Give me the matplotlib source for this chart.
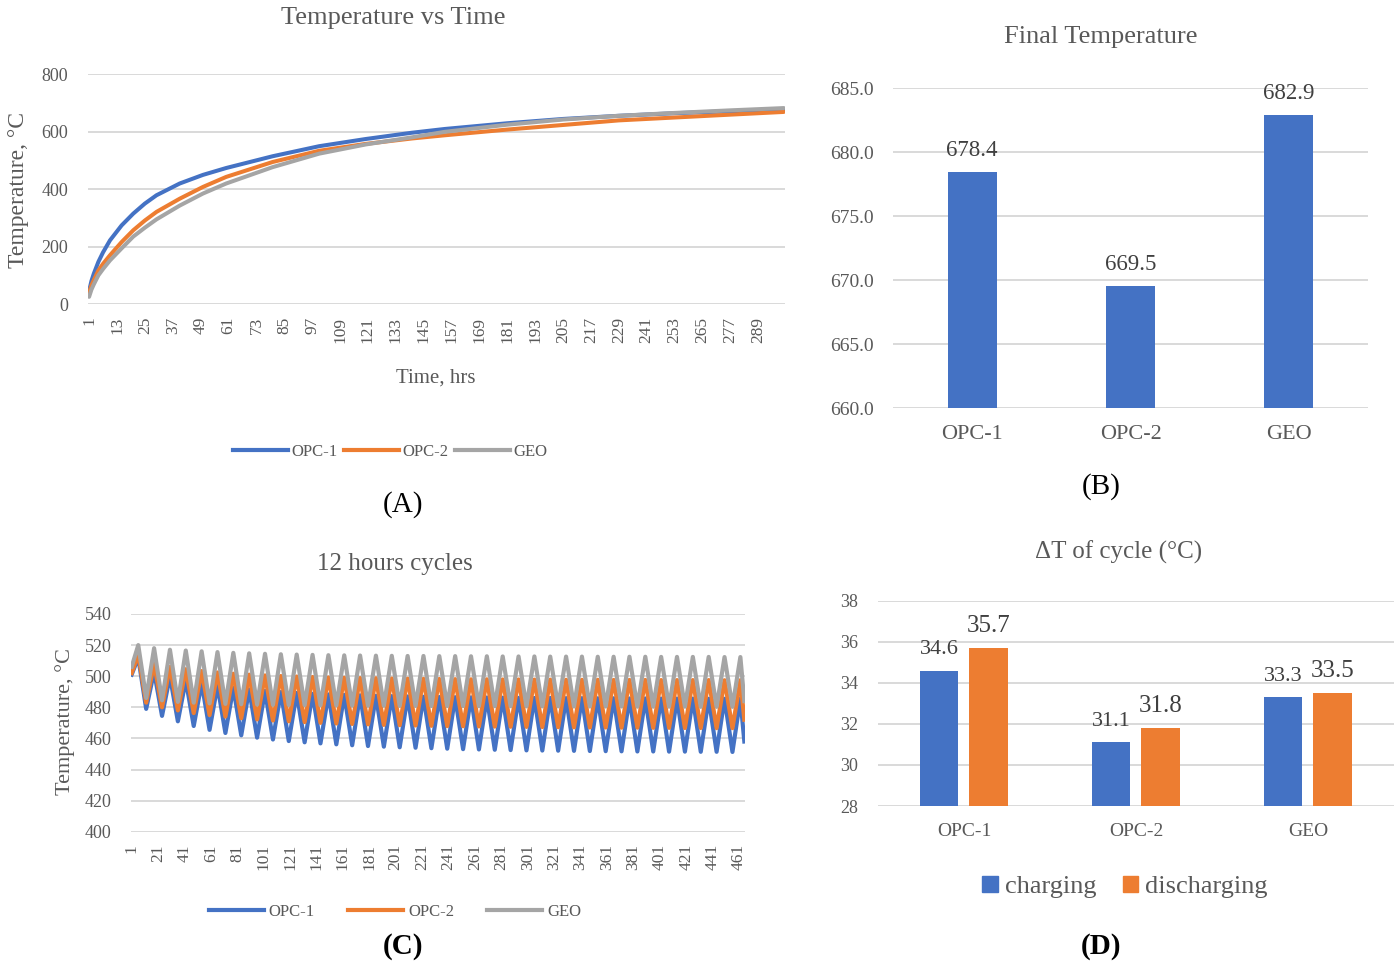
import numpy as np
import matplotlib
matplotlib.use('Agg')
import matplotlib.pyplot as plt
from matplotlib.patches import Patch
from matplotlib.lines import Line2D

plt.rcParams['font.family'] = ['Liberation Serif', 'DejaVu Serif']

BLUE = '#4472C4'
ORANGE = '#ED7D31'
GRAY = '#A5A5A5'
GRID = '#D9D9D9'
TEXT = '#595959'

series_names = ['OPC-1', 'OPC-2', 'GEO']

# (A) temperature vs time, values read at selected hours
a_hours = [1, 2, 3, 5, 7, 10, 15, 20, 25, 30, 40, 50, 60, 80, 100, 120,
           140, 154, 181, 205, 229, 253, 277, 300]
a_opc1 = [45, 80, 105, 147, 180, 222, 274, 315, 350, 379, 420, 450, 474, 515,
          550, 575, 597, 610, 630, 645, 656, 665, 672, 678.4]
a_opc2 = [40, 65, 83, 117, 140, 170, 216, 257, 291, 321, 367, 408, 443, 495,
          534, 558, 577, 588, 608, 624, 640, 650, 660, 669.5]
a_geo = [25, 50, 68, 100, 122, 152, 194, 235, 266, 295, 343, 385, 420, 477,
         524, 556, 581, 600, 625, 643, 656, 666, 675, 682.9]
a_n_hours = 300
a_tick_labels = list(range(1, 290, 12))

# (B) final temperature
b_values = [678.4, 669.5, 682.9]

# (C) 12 hours cycles: value at start, at each peak, each trough and at the end
c_peak_hours = np.arange(6, 463, 12)
c_trough_hours = np.arange(12, 457, 12)
c_end_hour = 465
c_start = [501, 502, 506]
c_end = [458, 472, 484]
c_opc1_peaks = [512, 503, 500, 497.5, 495.5, 494, 492.5, 491.5, 490.5, 489.8,
                489.2, 488.7, 488.3, 488, 487.7, 487.4, 487.2, 487, 486.8, 486.6,
                486.5, 486.4, 486.3, 486.2, 486.1, 486, 486, 485.9, 485.9, 485.8,
                485.8, 485.7, 485.7, 485.6, 485.6, 485.6, 485.5, 485.5, 485.5]
c_opc1_troughs = [479, 474.5, 471, 468, 465.5, 463.5, 462, 460.5, 459.3, 458.3,
                  457.5, 456.8, 456.2, 455.6, 455.1, 454.7, 454.3, 454, 453.7, 453.4,
                  453.1, 452.9, 452.7, 452.5, 452.3, 452.2, 452.1, 452, 451.9, 451.8,
                  451.7, 451.6, 451.6, 451.5, 451.5, 451.4, 451.4, 451.3]
c_opc2_peaks = [514, 508, 506, 504.5, 503.3, 502.4, 501.6, 501, 500.5, 500.1,
                499.8, 499.5, 499.2, 499, 498.8, 498.7, 498.5, 498.4, 498.3, 498.2,
                498.1, 498, 498, 497.9, 497.9, 497.8, 497.8, 497.7, 497.7, 497.7,
                497.6, 497.6, 497.6, 497.5, 497.5, 497.5, 497.5, 497.4, 497.4]
c_opc2_troughs = [483, 480, 478, 476.3, 475, 474, 473, 472.2, 471.5, 471,
                  470.5, 470, 469.6, 469.3, 469, 468.7, 468.5, 468.3, 468.1, 467.9,
                  467.8, 467.7, 467.6, 467.5, 467.4, 467.3, 467.2, 467.1, 467, 467,
                  466.9, 466.9, 466.8, 466.8, 466.7, 466.7, 466.6, 466.6]
c_geo_peaks = [520, 518, 517, 516.5, 516, 515.5, 515, 514.7, 514.4, 514.1,
               513.9, 513.7, 513.5, 513.4, 513.3, 513.2, 513.1, 513, 513, 512.9,
               512.9, 512.8, 512.8, 512.7, 512.7, 512.7, 512.6, 512.6, 512.6, 512.5,
               512.5, 512.5, 512.5, 512.4, 512.4, 512.4, 512.4, 512.3, 512.3]
c_geo_troughs = [486, 484.5, 483.5, 483, 482.5, 482.2, 482, 481.8, 481.6, 481.5,
                 481.4, 481.3, 481.2, 481.1, 481, 481, 480.9, 480.9, 480.8, 480.8,
                 480.8, 480.7, 480.7, 480.7, 480.6, 480.6, 480.6, 480.5, 480.5, 480.5,
                 480.5, 480.4, 480.4, 480.4, 480.4, 480.3, 480.3, 480.3]
c_tick_labels = list(range(1, 462, 20))

# (D) delta T of cycle
d_charging = [34.6, 31.1, 33.3]
d_discharging = [35.7, 31.8, 33.5]


def cycle_series(start, peaks, troughs, end):
    hrs, vals = [1], [start]
    for k, p in enumerate(peaks):
        hrs.append(c_peak_hours[k])
        vals.append(p)
        if k < len(troughs):
            hrs.append(c_trough_hours[k])
            vals.append(troughs[k])
    hrs.append(c_end_hour)
    vals.append(end)
    return hrs, vals


def style_axes(ax, labelsize, ypad=14):
    for s in ax.spines.values():
        s.set_visible(False)
    ax.grid(axis='y', color=GRID, linewidth=1.4)
    ax.set_axisbelow(True)
    ax.tick_params(length=0, colors=TEXT, labelsize=labelsize)
    ax.tick_params(axis='y', pad=ypad)


fig = plt.figure(figsize=(13.98, 9.66), dpi=100)

# ---------- (A)
ax_a = fig.add_axes([0.0629, 0.6853, 0.4986, 0.2376])
style_axes(ax_a, 13)
for vals, col in zip([a_opc1, a_opc2, a_geo], [BLUE, ORANGE, GRAY]):
    ax_a.plot(a_hours, vals, color=col, linewidth=2.9, solid_capstyle='round')
ax_a.set_xlim(0.5, a_n_hours + 0.5)
ax_a.set_ylim(0, 800)
ax_a.set_yticks(range(0, 801, 200))
ax_a.set_xticks(a_tick_labels)
ax_a.set_xticklabels([str(t) for t in a_tick_labels], rotation=90)
ax_a.tick_params(axis='x', pad=9, labelsize=12.5)
fig.text(0.2811, 0.9814, 'Temperature vs Time', ha='center', va='center',
         fontsize=19, color=TEXT)
fig.text(0.0129, 0.8033, 'Temperature, \u00b0C', ha='center', va='center',
         rotation=90, fontsize=17, color=TEXT)
fig.text(0.3119, 0.6087, 'Time, hrs', ha='center', va='center',
         fontsize=15, color=TEXT)
handles = [Line2D([], [], color=c, linewidth=3) for c in [BLUE, ORANGE, GRAY]]
fig.legend(handles, series_names, loc='center', bbox_to_anchor=(0.279, 0.532),
           ncol=3, frameon=False, fontsize=12, handlelength=3.3,
           handletextpad=0.2, columnspacing=0.4, labelcolor=TEXT)
fig.text(0.2883, 0.4772, '(A)', ha='center', va='center', fontsize=21)

# ---------- (B)
ax_b = fig.add_axes([0.6388, 0.5776, 0.3398, 0.3313])
style_axes(ax_b, 14)
xb = np.arange(len(series_names))
ax_b.bar(xb, b_values, width=0.31, color=BLUE, zorder=2)
for x, v in zip(xb, b_values):
    ax_b.annotate(f'{v:.1f}', (x, v), xytext=(0, 8), textcoords='offset points',
                  ha='center', va='bottom', fontsize=16.5, color='#404040')
ax_b.set_xlim(-0.5, 2.5)
ax_b.set_ylim(660, 685)
ax_b.set_yticks(np.arange(660, 686, 5))
ax_b.set_yticklabels([f'{t:.1f}' for t in np.arange(660, 686, 5)])
ax_b.set_xticks(xb)
ax_b.set_xticklabels(series_names)
ax_b.tick_params(axis='x', pad=12, labelsize=16)
fig.text(0.7876, 0.9617, 'Final Temperature', ha='center', va='center',
         fontsize=19, color=TEXT)
fig.text(0.7876, 0.4959, '(B)', ha='center', va='center', fontsize=21)

# ---------- (C)
ax_c = fig.add_axes([0.0937, 0.139, 0.4392, 0.2254])
style_axes(ax_c, 13)
c_sets = [(c_opc1_peaks, c_opc1_troughs), (c_opc2_peaks, c_opc2_troughs),
          (c_geo_peaks, c_geo_troughs)]
for i, (pk, tr) in enumerate(c_sets):
    hrs, vals = cycle_series(c_start[i], pk, tr, c_end[i])
    ax_c.plot(hrs, vals, color=[BLUE, ORANGE, GRAY][i], linewidth=3.0)
ax_c.set_xlim(0.5, c_end_hour + 0.5)
ax_c.set_ylim(400, 540)
ax_c.set_yticks(range(400, 541, 20))
ax_c.set_xticks(c_tick_labels)
ax_c.set_xticklabels([str(t) for t in c_tick_labels], rotation=90)
ax_c.tick_params(axis='x', pad=9, labelsize=12.5)
fig.text(0.2825, 0.4161, '12 hours cycles', ha='center', va='center',
         fontsize=18, color=TEXT)
fig.text(0.0465, 0.2526, 'Temperature, \u00b0C', ha='center', va='center',
         rotation=90, fontsize=16, color=TEXT)
fig.legend(handles, series_names, loc='center', bbox_to_anchor=(0.2825, 0.0559),
           ncol=3, frameon=False, fontsize=12, handlelength=3.3,
           handletextpad=0.3, columnspacing=2.0, labelcolor=TEXT)
fig.text(0.2883, 0.0197, '(C)', ha='center', va='center', fontsize=21,
         fontweight='bold')

# ---------- (D)
ax_d = fig.add_axes([0.628, 0.1656, 0.3691, 0.2125])
style_axes(ax_d, 13)
xd = np.arange(len(series_names))
off = 0.1435
ax_d.bar(xd - off, d_charging, width=0.223, color=BLUE, zorder=2)
ax_d.bar(xd + off, d_discharging, width=0.223, color=ORANGE, zorder=2)
for x, v in zip(xd - off, d_charging):
    ax_d.annotate(f'{v:.1f}', (x, v), xytext=(0, 8), textcoords='offset points',
                  ha='center', va='bottom', fontsize=16, color='#404040')
for x, v in zip(xd + off, d_discharging):
    ax_d.annotate(f'{v:.1f}', (x, v), xytext=(0, 8), textcoords='offset points',
                  ha='center', va='bottom', fontsize=18, color='#404040')
ax_d.set_xlim(-0.5, 2.5)
ax_d.set_ylim(28, 38)
ax_d.set_yticks(range(28, 39, 2))
ax_d.set_xticks(xd)
ax_d.set_xticklabels(series_names)
ax_d.tick_params(axis='x', pad=12, labelsize=14)
fig.text(0.8004, 0.4286, '\u0394T of cycle (\u00b0C)', ha='center', va='center',
         fontsize=18, color=TEXT)
d_handles = [Patch(color=BLUE), Patch(color=ORANGE)]
fig.legend(d_handles, ['charging', 'discharging'], loc='center',
           bbox_to_anchor=(0.8047, 0.0818), ncol=2, frameon=False, fontsize=19,
           handlelength=0.6, handleheight=0.6, handletextpad=0.25,
           columnspacing=1.0, labelcolor=TEXT)
fig.text(0.7876, 0.0197, '(D)', ha='center', va='center', fontsize=21,
         fontweight='bold')

fig.savefig('out.png', dpi=100)
